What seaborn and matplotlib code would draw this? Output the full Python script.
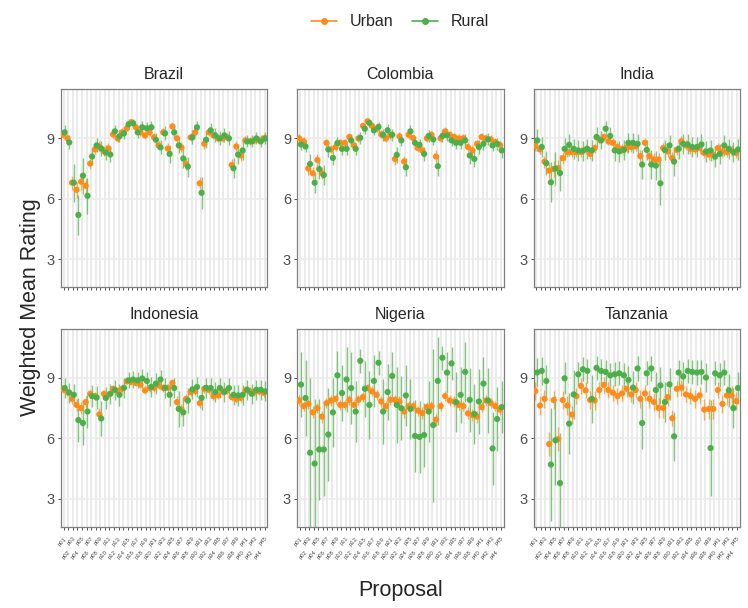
import pandas as pd
import matplotlib.pyplot as plt
from matplotlib.lines import Line2D
import seaborn as sns

# categories
proposals = [f"p{i:02d}" for i in range(1, 46)]
countries = ["Brazil", "Colombia", "India", "Indonesia", "Nigeria", "Tanzania"]
groups = ["Urban", "Rural"]
colors = {"Urban": "#FF8C1A", "Rural": "#4DAF4A"}

# weighted mean ratings, p01..p45
brazil_urban = [9.2, 9.0, 6.8, 6.45, 6.85, 6.65, 7.75, 8.45, 8.6, 8.37, 8.5, 9.2, 9.0, 9.3, 9.5,
                9.8, 9.55, 9.3, 9.15, 9.3, 9.05, 8.65, 9.3, 8.5, 9.6, 9.0, 8.55, 7.73, 9.05, 9.3,
                6.77, 8.73, 9.3, 9.15, 9.0, 9.0, 9.05, 7.68, 8.6, 8.15, 8.9, 8.85, 8.9, 8.9, 9.0]
brazil_rural = [9.3, 8.8, 6.8, 5.2, 7.15, 6.15, 8.1, 8.65, 8.5, 8.3, 8.2, 9.35, 9.1, 9.25, 9.7,
                9.75, 9.3, 9.55, 9.5, 9.55, 8.93, 8.55, 9.25, 8.23, 9.3, 8.65, 8.0, 7.6, 9.05, 9.55,
                6.3, 8.93, 9.4, 9.15, 9.0, 9.15, 9.0, 7.52, 8.2, 8.4, 8.85, 8.85, 9.0, 8.85, 9.0]
colombia_urban = [9.0, 8.85, 7.5, 7.27, 7.93, 7.28, 8.78, 8.45, 8.57, 8.78, 8.78, 9.07, 8.65, 9.0, 9.62,
                  9.85, 9.62, 9.48, 9.2, 9.0, 9.15, 7.98, 9.1, 7.85, 9.18, 9.02, 8.52, 8.4, 9.0, 9.18,
                  8.1, 9.0, 9.35, 9.18, 9.07, 9.0, 9.0, 8.57, 8.4, 8.73, 9.07, 9.0, 8.95, 8.82, 8.68]
colombia_rural = [8.7, 8.6, 7.73, 6.8, 7.48, 7.18, 8.45, 8.03, 8.77, 8.48, 8.48, 8.9, 8.48, 9.03, 9.48,
                  9.77, 9.4, 9.57, 9.18, 9.4, 9.18, 8.18, 8.9, 7.57, 9.35, 8.78, 8.68, 8.23, 9.12, 8.95,
                  7.62, 9.12, 9.15, 8.9, 8.78, 8.78, 8.9, 8.15, 7.98, 8.57, 8.73, 8.95, 8.65, 8.73, 8.4]
india_urban = [8.62, 8.45, 7.85, 7.4, 7.48, 7.52, 8.02, 8.32, 8.32, 8.32, 8.32, 8.45, 8.23, 8.52, 8.95,
               9.07, 8.85, 8.78, 8.57, 8.48, 8.55, 8.57, 8.6, 8.12, 8.78, 8.12, 7.95, 7.95, 8.52, 8.35,
               8.02, 8.43, 8.85, 8.65, 8.48, 8.45, 8.52, 8.28, 8.2, 8.18, 8.52, 8.35, 8.32, 8.4, 8.28]
india_rural = [8.9, 8.57, 7.77, 6.82, 7.5, 7.28, 8.48, 8.68, 8.48, 8.4, 8.38, 8.48, 8.4, 9.07, 8.9,
               9.48, 9.12, 8.4, 8.35, 8.43, 8.78, 8.78, 8.73, 7.7, 8.43, 7.7, 7.65, 6.77, 8.43, 8.65,
               7.85, 8.48, 8.73, 8.7, 8.57, 8.57, 8.7, 8.35, 8.4, 8.1, 8.23, 8.65, 8.48, 8.32, 8.45]
indonesia_urban = [8.43, 8.3, 7.96, 7.66, 7.5, 7.8, 8.21, 8.1, 7.19, 8.21, 8.16, 8.46, 8.35, 8.46, 8.83,
                   8.8, 8.75, 8.67, 8.38, 8.5, 8.51, 8.63, 8.5, 8.51, 8.75, 7.8, 7.43, 7.96, 8.3, 8.35,
                   7.75, 8.46, 8.41, 8.1, 8.13, 8.33, 8.38, 8.05, 7.96, 8.01, 8.38, 8.33, 8.3, 8.33, 8.26]
indonesia_rural = [8.5, 8.27, 8.16, 6.91, 6.76, 7.33, 8.1, 8.03, 6.99, 8.01, 8.21, 8.41, 8.16, 8.51, 8.88,
                   8.92, 8.88, 8.97, 8.85, 8.55, 8.72, 8.92, 8.51, 8.16, 8.5, 7.46, 7.29, 7.88, 8.43, 8.55,
                   8.01, 8.51, 8.5, 8.3, 8.5, 8.3, 8.5, 8.16, 8.13, 8.16, 8.41, 8.21, 8.41, 8.41, 8.33]
nigeria_urban = [7.88, 7.6, 7.71, 7.29, 7.5, 7.08, 7.75, 7.88, 7.96, 7.66, 7.66, 7.91, 7.66, 7.91, 8.05,
                 8.5, 8.33, 8.16, 7.83, 7.6, 7.91, 7.91, 7.83, 7.33, 7.6, 7.6, 7.38, 7.26, 7.55, 7.6,
                 6.93, 7.6, 8.1, 7.88, 7.83, 7.66, 7.6, 7.24, 7.16, 7.08, 7.55, 7.88, 7.76, 7.6, 7.43]
nigeria_rural = [8.67, 8.0, 5.29, 4.75, 5.45, 5.45, 6.19, 7.29, 9.13, 8.25, 8.92, 8.5, 7.33, 9.85, 8.46,
                 7.66, 8.85, 9.75, 7.33, 8.3, 9.1, 7.66, 7.5, 8.13, 7.46, 6.12, 6.07, 6.17, 7.33, 6.66,
                 8.85, 10.0, 9.27, 9.72, 7.8, 8.16, 9.3, 7.91, 7.21, 7.83, 8.72, 7.88, 5.5, 6.96, 7.55]
tanzania_urban = [8.35, 7.63, 7.96, 5.72, 7.9, 5.96, 7.9, 7.63, 7.18, 8.1, 8.6, 8.38, 7.9, 7.88, 8.4,
                  8.65, 8.4, 8.26, 8.1, 8.23, 8.46, 8.18, 8.4, 7.96, 8.23, 7.96, 7.8, 7.51, 7.51, 8.05,
                  7.0, 8.46, 8.52, 8.18, 8.1, 7.96, 8.13, 7.43, 7.46, 7.46, 8.4, 7.71, 8.13, 8.13, 7.85]
tanzania_rural = [9.27, 9.35, 8.85, 4.7, 5.9, 3.78, 8.98, 6.73, 8.18, 9.18, 9.43, 9.35, 7.96, 9.5, 9.35,
                  9.3, 9.13, 9.18, 9.23, 9.13, 8.9, 8.52, 9.47, 6.76, 9.23, 9.47, 8.4, 8.63, 7.8, 8.68,
                  6.1, 9.27, 9.07, 9.35, 9.3, 9.27, 9.3, 9.02, 5.52, 9.23, 9.13, 9.27, 8.38, 7.5, 8.5]

# half-width of the interval around each mean
brazil_urban_err = [0.2, 0.2, 0.35, 0.4, 0.4, 0.35, 0.25, 0.25, 0.25, 0.25, 0.25, 0.2, 0.2, 0.2, 0.15,
                    0.15, 0.15, 0.2, 0.2, 0.2, 0.2, 0.2, 0.2, 0.25, 0.15, 0.2, 0.25, 0.3, 0.2, 0.2,
                    0.3, 0.25, 0.2, 0.2, 0.2, 0.2, 0.2, 0.3, 0.25, 0.25, 0.2, 0.2, 0.2, 0.2, 0.2]
brazil_rural_err = [0.35, 0.35, 0.95, 1.0, 0.9, 0.9, 0.4, 0.35, 0.35, 0.35, 0.35, 0.3, 0.3, 0.3, 0.25,
                    0.2, 0.3, 0.3, 0.3, 0.3, 0.35, 0.35, 0.35, 0.45, 0.3, 0.4, 0.45, 0.5, 0.35, 0.3,
                    0.8, 0.4, 0.35, 0.35, 0.35, 0.35, 0.35, 0.5, 0.45, 0.45, 0.3, 0.3, 0.3, 0.3, 0.3]
colombia_urban_err = [0.2, 0.2, 0.3, 0.3, 0.3, 0.3, 0.2, 0.2, 0.2, 0.2, 0.2, 0.2, 0.2, 0.2, 0.15,
                      0.15, 0.15, 0.15, 0.2, 0.2, 0.2, 0.3, 0.2, 0.3, 0.2, 0.2, 0.2, 0.2, 0.2, 0.2,
                      0.3, 0.2, 0.2, 0.2, 0.2, 0.2, 0.2, 0.25, 0.25, 0.2, 0.2, 0.2, 0.2, 0.2, 0.2]
colombia_rural_err = [0.3, 0.3, 0.5, 0.5, 0.5, 0.5, 0.35, 0.35, 0.3, 0.3, 0.3, 0.3, 0.3, 0.3, 0.25,
                      0.2, 0.25, 0.25, 0.3, 0.3, 0.3, 0.4, 0.3, 0.45, 0.3, 0.3, 0.3, 0.35, 0.3, 0.3,
                      0.5, 0.3, 0.3, 0.3, 0.3, 0.3, 0.3, 0.4, 0.4, 0.35, 0.3, 0.3, 0.3, 0.3, 0.35]
india_urban_err = [0.25, 0.25, 0.3, 0.4, 0.4, 0.4, 0.3, 0.25, 0.25, 0.25, 0.25, 0.25, 0.25, 0.25, 0.2,
                   0.2, 0.2, 0.25, 0.25, 0.25, 0.25, 0.25, 0.25, 0.3, 0.25, 0.3, 0.3, 0.3, 0.25, 0.25,
                   0.3, 0.25, 0.25, 0.25, 0.25, 0.25, 0.25, 0.25, 0.25, 0.25, 0.25, 0.25, 0.25, 0.25, 0.25]
india_rural_err = [0.55, 0.5, 0.6, 1.0, 0.8, 0.9, 0.55, 0.55, 0.5, 0.5, 0.5, 0.5, 0.5, 0.5, 0.45,
                   0.4, 0.45, 0.5, 0.5, 0.5, 0.5, 0.5, 0.5, 0.7, 0.5, 0.7, 0.7, 1.1, 0.5, 0.5,
                   0.7, 0.5, 0.5, 0.5, 0.5, 0.5, 0.5, 0.5, 0.5, 0.5, 0.5, 0.5, 0.5, 0.5, 0.5]
indonesia_urban_err = [0.2, 0.2, 0.25, 0.3, 0.3, 0.3, 0.2, 0.2, 0.3, 0.2, 0.2, 0.2, 0.2, 0.2, 0.15,
                       0.15, 0.15, 0.15, 0.2, 0.2, 0.2, 0.2, 0.2, 0.2, 0.2, 0.3, 0.3, 0.25, 0.2, 0.2,
                       0.25, 0.2, 0.2, 0.2, 0.2, 0.2, 0.2, 0.2, 0.2, 0.2, 0.2, 0.2, 0.2, 0.2, 0.2]
indonesia_rural_err = [0.5, 0.5, 0.55, 1.1, 1.1, 0.8, 0.55, 0.55, 0.85, 0.55, 0.5, 0.5, 0.55, 0.5, 0.4,
                       0.4, 0.4, 0.45, 0.45, 0.5, 0.5, 0.45, 0.5, 0.55, 0.5, 0.9, 0.7, 0.6, 0.5, 0.5,
                       0.6, 0.5, 0.5, 0.5, 0.5, 0.5, 0.5, 0.5, 0.5, 0.5, 0.5, 0.5, 0.5, 0.5, 0.5]
nigeria_urban_err = [0.25, 0.25, 0.25, 0.3, 0.25, 0.3, 0.25, 0.25, 0.25, 0.25, 0.25, 0.25, 0.25, 0.25, 0.25,
                     0.2, 0.25, 0.25, 0.25, 0.25, 0.25, 0.25, 0.25, 0.3, 0.25, 0.25, 0.25, 0.3, 0.25, 0.25,
                     0.3, 0.25, 0.25, 0.25, 0.25, 0.25, 0.25, 0.3, 0.3, 0.3, 0.25, 0.25, 0.25, 0.25, 0.25]
nigeria_rural_err = [1.6, 1.9, 3.7, 3.2, 2.5, 2.3, 2.3, 1.7, 1.2, 1.4, 1.6, 1.8, 1.5, 0.6, 1.4,
                     1.7, 1.3, 0.6, 1.6, 1.4, 1.2, 1.9, 1.6, 1.5, 1.5, 1.8, 1.8, 1.6, 1.5, 3.8,
                     2.2, 0.6, 1.0, 0.8, 1.5, 1.4, 1.5, 1.6, 1.5, 1.6, 1.3, 1.6, 1.8, 1.6, 1.3]
tanzania_urban_err = [0.45, 0.45, 0.45, 0.6, 0.45, 0.6, 0.45, 0.45, 0.45, 0.4, 0.4, 0.4, 0.45, 0.45, 0.4,
                      0.4, 0.4, 0.4, 0.4, 0.4, 0.4, 0.4, 0.4, 0.45, 0.4, 0.45, 0.45, 0.5, 0.5, 0.45,
                      0.4, 0.4, 0.4, 0.4, 0.4, 0.45, 0.4, 0.5, 0.5, 0.5, 0.4, 0.45, 0.45, 0.45, 0.45]
tanzania_rural_err = [0.7, 0.7, 0.8, 2.8, 2.2, 2.5, 0.8, 1.5, 1.2, 0.6, 0.6, 0.6, 1.2, 0.6, 0.6,
                      0.6, 0.6, 0.6, 0.6, 0.6, 0.7, 0.8, 0.6, 1.3, 0.6, 0.6, 0.9, 0.9, 1.0, 0.8,
                      1.2, 0.6, 0.7, 0.6, 0.6, 0.6, 0.6, 0.7, 2.4, 0.6, 0.6, 0.6, 0.8, 1.0, 0.8]

means = {
    ("Brazil", "Urban"): brazil_urban, ("Brazil", "Rural"): brazil_rural,
    ("Colombia", "Urban"): colombia_urban, ("Colombia", "Rural"): colombia_rural,
    ("India", "Urban"): india_urban, ("India", "Rural"): india_rural,
    ("Indonesia", "Urban"): indonesia_urban, ("Indonesia", "Rural"): indonesia_rural,
    ("Nigeria", "Urban"): nigeria_urban, ("Nigeria", "Rural"): nigeria_rural,
    ("Tanzania", "Urban"): tanzania_urban, ("Tanzania", "Rural"): tanzania_rural,
}
errs = {
    ("Brazil", "Urban"): brazil_urban_err, ("Brazil", "Rural"): brazil_rural_err,
    ("Colombia", "Urban"): colombia_urban_err, ("Colombia", "Rural"): colombia_rural_err,
    ("India", "Urban"): india_urban_err, ("India", "Rural"): india_rural_err,
    ("Indonesia", "Urban"): indonesia_urban_err, ("Indonesia", "Rural"): indonesia_rural_err,
    ("Nigeria", "Urban"): nigeria_urban_err, ("Nigeria", "Rural"): nigeria_rural_err,
    ("Tanzania", "Urban"): tanzania_urban_err, ("Tanzania", "Rural"): tanzania_rural_err,
}

# long table
rows = []
for c in countries:
    for g in groups:
        for i, p in enumerate(proposals):
            rows.append({"country": c, "group": g, "proposal": p, "pos": i,
                         "rating": means[(c, g)][i], "err": errs[(c, g)][i]})
df = pd.DataFrame(rows)
dodge = {"Urban": -0.2, "Rural": 0.2}
df["x"] = df["pos"] + df["group"].map(dodge)

sns.set_theme(style="white")
plt.rcParams["font.family"] = ["Liberation Sans", "DejaVu Sans"]

fig, axes = plt.subplots(2, 3, figsize=(7.48, 6.08), dpi=100)
plt.subplots_adjust(left=0.0816, right=0.989, top=0.8536, bottom=0.1332,
                    wspace=0.1456, hspace=0.207)

for k, (ax, c) in enumerate(zip(axes.flat, countries)):
    sub = df[df["country"] == c]
    for g in groups:
        d = sub[sub["group"] == g]
        ax.vlines(d["x"], d["rating"] - d["err"], d["rating"] + d["err"],
                  color=colors[g], lw=1.0, alpha=0.7, zorder=2)
    for g in groups:
        d = sub[sub["group"] == g]
        sns.scatterplot(data=d, x="x", y="rating", color=colors[g], s=20,
                        edgecolor="none", linewidth=0, ax=ax, legend=False, zorder=3)

    ax.set_xlim(-0.6, 44.6)
    ax.set_ylim(1.6, 11.45)
    ax.set_yticks([3, 6, 9])
    ax.set_xticks(range(len(proposals)))
    ax.grid(axis="x", color="#EBEBEB", lw=1.4)
    ax.grid(axis="y", color="#EBEBEB", lw=1.1)
    ax.set_axisbelow(True)
    for s in ax.spines.values():
        s.set_color("#7F7F7F")
        s.set_linewidth(0.9)
    ax.tick_params(axis="both", length=2.5, width=0.6, color="#333333",
                   labelcolor="#4D4D4D", bottom=True, left=True)
    ax.tick_params(axis="y", labelsize=10.5, pad=2)
    ax.set_title(c, fontsize=11.5, pad=7)
    ax.set_xlabel("")
    ax.set_ylabel("")
    if k < 3:
        ax.set_xticklabels([])
    else:
        ax.set_xticklabels(proposals, rotation=45, ha="right",
                           rotation_mode="anchor", fontsize=4.2)
        for j, t in enumerate(ax.xaxis.get_major_ticks()):
            t.set_pad(4 if j % 2 == 0 else 14)

fig.supylabel("Weighted Mean Rating", fontsize=15.5, x=0.027, y=0.495)
fig.text(0.535, 0.028, "Proposal", fontsize=15.5, ha="center", va="center")

handles = [Line2D([], [], color=colors[g], marker="o", markersize=4, lw=1.2) for g in groups]
fig.legend(handles, groups, loc="upper center", bbox_to_anchor=(0.535, 1.0), ncol=2,
           frameon=False, fontsize=11.5, handlelength=1.6, columnspacing=1.2,
           handletextpad=0.8)

fig.savefig("out.png", dpi=100)
